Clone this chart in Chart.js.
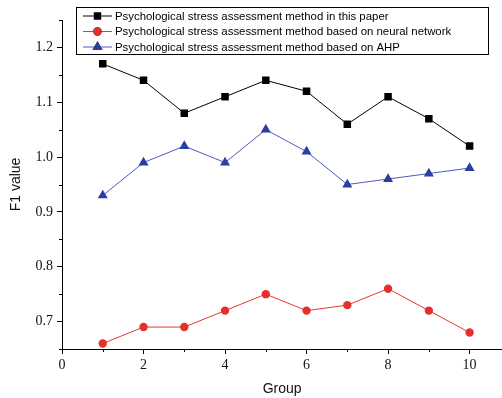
<!DOCTYPE html>
<html>
<head>
<meta charset="utf-8">
<script src="https://cdn.jsdelivr.net/npm/chart.js@4"></script>
<style>
  html, body { margin: 0; padding: 0; background: #fff; overflow: hidden; }
  #wrap { width: 502px; height: 398px; overflow: hidden; }
</style>
</head>
<body>
<div id="wrap"><canvas id="lineChart" width="508" height="398"></canvas></div>
<script>
// data
var groups = [1, 2, 3, 4, 5, 6, 7, 8, 9, 10];
var thisPaper = [1.17, 1.14, 1.08, 1.11, 1.14, 1.12, 1.06, 1.11, 1.07, 1.02];
var neuralNet = [0.66, 0.69, 0.69, 0.72, 0.75, 0.72, 0.73, 0.76, 0.72, 0.68];
var ahp = [0.93, 0.99, 1.02, 0.99, 1.05, 1.01, 0.95, 0.96, 0.97, 0.98];
var xTicks = [0, 2, 4, 6, 8, 10];
var xMinor = [1, 3, 5, 7, 9];
var yTicks = [0.7, 0.8, 0.9, 1.0, 1.1, 1.2];
var yMinor = [0.65, 0.75, 0.85, 0.95, 1.05, 1.15, 1.25];

var seriesNames = [
    'Psychological stress assessment method in this paper',
    'Psychological stress assessment method based on neural network',
    'Psychological stress assessment method based on AHP'
];

function pts(vals) {
    return vals.map(function (v, i) { return { x: groups[i], y: v }; });
}

// minor ticks + legend box drawn in the plot
var extras = {
    id: 'extras',
    afterDraw: function (chart) {
        var ctx = chart.ctx;
        var xs = chart.scales.x, ys = chart.scales.y;
        var area = chart.chartArea;
        ctx.save();
        ctx.strokeStyle = '#000';
        ctx.lineWidth = 1;
        ctx.beginPath();
        xMinor.forEach(function (v) {
            var px = Math.round(xs.getPixelForValue(v)) + 0.5;
            ctx.moveTo(px, area.bottom);
            ctx.lineTo(px, area.bottom + 3);
        });
        yMinor.forEach(function (v) {
            var py = Math.round(ys.getPixelForValue(v)) + 0.5;
            ctx.moveTo(area.left, py);
            ctx.lineTo(area.left - 3, py);
        });
        ctx.stroke();

        // legend
        var bx = 76.5, by = 7.5, bw = 412, bh = 47;
        ctx.fillStyle = '#fff';
        ctx.fillRect(bx, by, bw, bh);
        ctx.strokeRect(bx, by, bw, bh);
        ctx.font = '11.4px "Liberation Sans", Arial, sans-serif';
        ctx.textBaseline = 'middle';
        chart.data.datasets.forEach(function (ds, i) {
            var cy = 16 + i * 15.5;
            ctx.strokeStyle = ds.borderColor;
            ctx.lineWidth = 1;
            ctx.beginPath();
            ctx.moveTo(83, cy);
            ctx.lineTo(112, cy);
            ctx.stroke();
            Chart.helpers.drawPoint(ctx, {
                pointStyle: ds.pointStyle,
                radius: ds.pointRadius,
                borderWidth: 0
            }, 97.5, cy);
            ctx.fillStyle = ds.pointBackgroundColor;
            ctx.fill();
            ctx.fillStyle = '#000';
            ctx.fillText(ds.label, 115, cy + 0.5);
        });
        ctx.restore();
    }
};

var ctxLine = document.getElementById('lineChart').getContext('2d');
new Chart(ctxLine, {
    type: 'line',
    data: {
        datasets: [{
            label: seriesNames[0],
            data: pts(thisPaper),
            borderColor: '#000000',
            borderWidth: 1,
            pointStyle: 'rect',
            pointRadius: 5.3,
            pointBackgroundColor: '#000000',
            pointBorderWidth: 0
        }, {
            label: seriesNames[1],
            data: pts(neuralNet),
            borderColor: '#e8382c',
            borderWidth: 1,
            pointStyle: 'circle',
            pointRadius: 4.2,
            pointBackgroundColor: '#e3302a',
            pointBorderWidth: 0
        }, {
            label: seriesNames[2],
            data: pts(ahp),
            borderColor: '#4b5cc0',
            borderWidth: 1,
            pointStyle: 'triangle',
            pointRadius: 5.8,
            pointBackgroundColor: '#2c3da3',
            pointBorderWidth: 0
        }]
    },
    options: {
        responsive: false,
        animation: false,
        layout: { padding: { top: 20, right: 0, left: 0, bottom: 0 } },
        plugins: {
            legend: { display: false },
            tooltip: { enabled: false }
        },
        scales: {
            x: {
                type: 'linear',
                min: 0,
                max: 10.8,
                afterBuildTicks: function (s) { s.ticks = xTicks.map(function (v) { return { value: v }; }); },
                afterFit: function (s) { s.height = 49; },
                border: { display: true, color: '#000', width: 1 },
                grid: { drawOnChartArea: false, color: '#000', tickLength: 5 },
                ticks: {
                    color: '#111',
                    padding: 3,
                    maxRotation: 0,
                    font: { family: '"Liberation Serif", "Times New Roman", serif', size: 14 }
                },
                title: {
                    display: true,
                    text: 'Group',
                    color: '#111',
                    padding: { top: 5, bottom: 0 },
                    font: { family: '"Liberation Sans", Arial, sans-serif', size: 14 }
                }
            },
            y: {
                min: 0.65,
                max: 1.25,
                afterBuildTicks: function (s) { s.ticks = yTicks.map(function (v) { return { value: v }; }); },
                afterFit: function (s) { s.width = 62; },
                border: { display: true, color: '#000', width: 1 },
                grid: { drawOnChartArea: false, color: '#000', tickLength: 5 },
                ticks: {
                    color: '#111',
                    padding: 4,
                    callback: function (v) { return v.toFixed(1); },
                    font: { family: '"Liberation Serif", "Times New Roman", serif', size: 14 }
                },
                title: {
                    display: true,
                    text: 'F1 value',
                    color: '#111',
                    padding: { top: 8, bottom: 0 },
                    font: { family: '"Liberation Sans", Arial, sans-serif', size: 14 }
                }
            }
        }
    },
    plugins: [extras]
});
</script>
</body>
</html>
